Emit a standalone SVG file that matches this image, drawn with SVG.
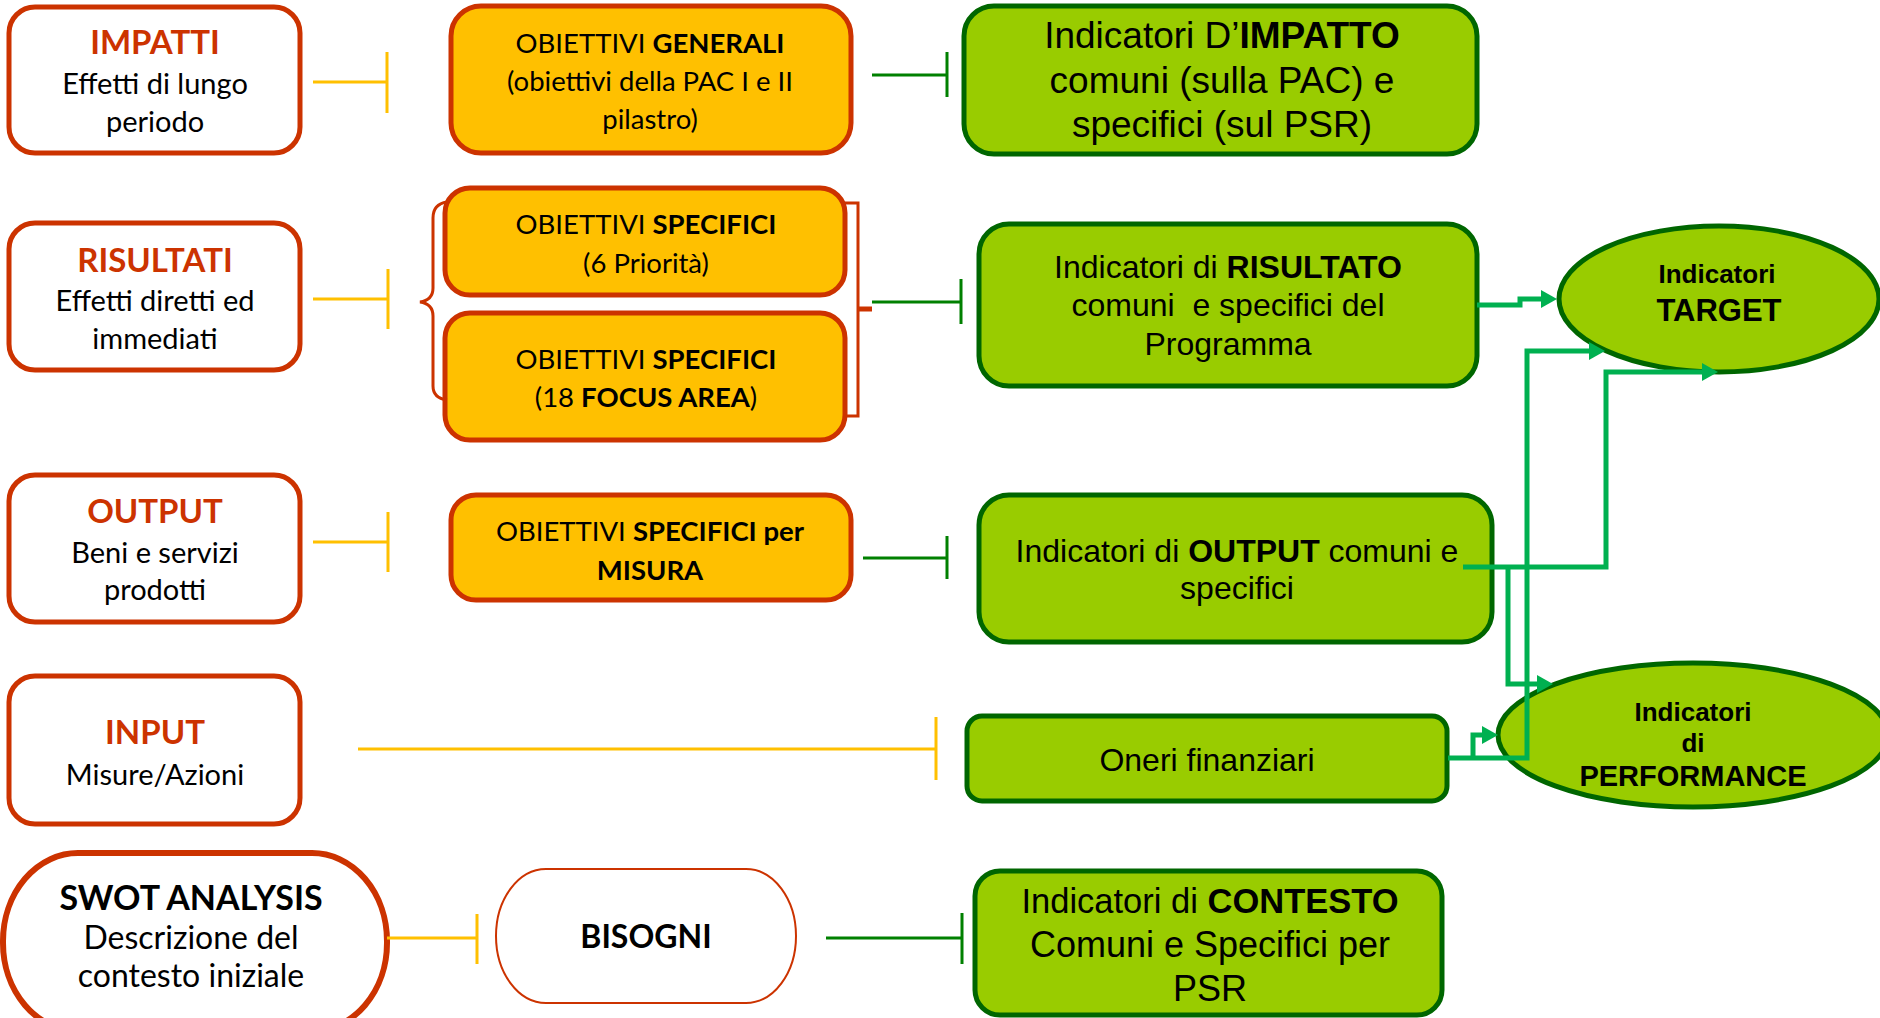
<svg xmlns="http://www.w3.org/2000/svg" width="1880" height="1018" viewBox="0 0 1880 1018">
<style>
.lbox{fill:#fff;stroke:#CC3300;stroke-width:5}
.ybox{fill:#FFC000;stroke:#CC3300;stroke-width:5}
.gbox{fill:#99CC00;stroke:#006600;stroke-width:5}
.cal{font-family:Lato,"Open Sans",sans-serif;fill:#000;text-anchor:middle}
.ari{font-family:"Liberation Sans",Arial,sans-serif;fill:#000;text-anchor:middle}
.red{fill:#CC3300;font-weight:bold}
.b{font-weight:bold}
.yl{stroke:#FFC000;stroke-width:3;fill:none}
.gl{stroke:#008000;stroke-width:3;fill:none}
.ar{stroke:#00B050;stroke-width:5;fill:none;marker-end:url(#ah)}
.br{stroke:#CC3300;stroke-width:3;fill:none}
</style>
<defs>
<marker id="ah" markerUnits="userSpaceOnUse" markerWidth="16" markerHeight="18" refX="6" refY="9" orient="auto">
<path d="M0,0 L16,9 L0,18 z" fill="#00B050"/>
</marker>
</defs>

<g id="impatti">
<rect class="lbox" x="9" y="7" width="291" height="146" rx="26"/>
<text class="cal red" x="155" y="54" font-size="33">IMPATTI</text>
<text class="cal" x="155" y="94" font-size="29">Effetti di lungo</text>
<text class="cal" x="155" y="132" font-size="29">periodo</text>
</g>
<g id="obiettivi-generali">
<rect class="ybox" x="451" y="6" width="400" height="147" rx="30"/>
<text class="cal" x="650" y="53" font-size="27.5">OBIETTIVI <tspan class="b">GENERALI</tspan></text>
<text class="cal" x="650" y="91" font-size="27.5">(obiettivi della PAC I e II</text>
<text class="cal" x="650" y="129" font-size="27.5">pilastro)</text>
</g>
<g id="indicatori-impatto">
<rect class="gbox" x="964" y="6" width="513" height="148" rx="30"/>
<text class="ari" x="1222" y="48" font-size="37">Indicatori D’<tspan class="b">IMPATTO</tspan></text>
<text class="ari" x="1222" y="93" font-size="37">comuni (sulla PAC) e</text>
<text class="ari" x="1222" y="137" font-size="37">specifici (sul PSR)</text>
</g>

<g id="risultati">
<rect class="lbox" x="9" y="223" width="291" height="147" rx="26"/>
<text class="cal red" x="155" y="272" font-size="33">RISULTATI</text>
<text class="cal" x="155" y="311" font-size="29">Effetti diretti ed</text>
<text class="cal" x="155" y="349" font-size="29">immediati</text>
</g>
<g id="obiettivi-specifici-priorita">
<rect class="ybox" x="445" y="188" width="400" height="107" rx="25"/>
<text class="cal" x="646" y="234" font-size="27.5">OBIETTIVI <tspan class="b">SPECIFICI</tspan></text>
<text class="cal" x="646" y="273" font-size="27.5">(6 Priorità)</text>
</g>
<g id="obiettivi-specifici-focus">
<rect class="ybox" x="445" y="313" width="400" height="127" rx="25"/>
<text class="cal" x="646" y="369" font-size="27.5">OBIETTIVI <tspan class="b">SPECIFICI</tspan></text>
<text class="cal" x="646" y="407" font-size="27.5">(18 <tspan class="b">FOCUS AREA</tspan>)</text>
</g>
<g id="indicatori-risultato">
<rect class="gbox" x="979" y="224" width="498" height="162" rx="30"/>
<text class="ari" x="1228" y="278" font-size="32">Indicatori di <tspan class="b">RISULTATO</tspan></text>
<text class="ari" x="1228" y="316" font-size="32" xml:space="preserve">comuni  e specifici del</text>
<text class="ari" x="1228" y="355" font-size="32">Programma</text>
</g>
<g id="indicatori-target">
<ellipse class="gbox" cx="1719" cy="299" rx="160" ry="73"/>
<text class="ari b" x="1717" y="283" font-size="26">Indicatori</text>
<text class="ari b" x="1719" y="321" font-size="31">TARGET</text>
</g>

<g id="output">
<rect class="lbox" x="9" y="475" width="291" height="147" rx="26"/>
<text class="cal red" x="155" y="523" font-size="33">OUTPUT</text>
<text class="cal" x="155" y="563" font-size="29">Beni e servizi</text>
<text class="cal" x="155" y="600" font-size="29">prodotti</text>
</g>
<g id="obiettivi-misura">
<rect class="ybox" x="451" y="495" width="400" height="105" rx="25"/>
<text class="cal" x="650" y="541" font-size="27.5">OBIETTIVI <tspan class="b">SPECIFICI per</tspan></text>
<text class="cal b" x="650" y="580" font-size="27.5">MISURA</text>
</g>
<g id="indicatori-output">
<rect class="gbox" x="979" y="495" width="513" height="147" rx="30"/>
<text class="ari" x="1237" y="562" font-size="32">Indicatori di <tspan class="b">OUTPUT</tspan> comuni e</text>
<text class="ari" x="1237" y="599" font-size="32">specifici</text>
</g>

<g id="input">
<rect class="lbox" x="9" y="676" width="291" height="148" rx="26"/>
<text class="cal red" x="155" y="744" font-size="33">INPUT</text>
<text class="cal" x="155" y="785" font-size="29">Misure/Azioni</text>
</g>
<g id="oneri">
<rect class="gbox" x="967" y="716" width="480" height="85" rx="15"/>
<text class="ari" x="1207" y="771" font-size="32">Oneri finanziari</text>
</g>
<g id="indicatori-performance">
<ellipse class="gbox" cx="1693" cy="735" rx="195" ry="72"/>
<text class="ari b" x="1693" y="721" font-size="26">Indicatori</text>
<text class="ari b" x="1693" y="752" font-size="26">di</text>
<text class="ari b" x="1693" y="786" font-size="29">PERFORMANCE</text>
</g>

<g id="swot">
<rect class="lbox" x="3" y="853" width="384" height="178" rx="75" ry="88" style="stroke-width:6"/>
<text class="cal b" x="191" y="910" font-size="34">SWOT ANALYSIS</text>
<text class="cal" x="191" y="949" font-size="32">Descrizione del</text>
<text class="cal" x="191" y="987" font-size="32">contesto iniziale</text>
</g>
<g id="bisogni">
<rect x="496" y="869" width="300" height="134" rx="50" ry="67" fill="#fff" stroke="#CC3300" stroke-width="2"/>
<text class="cal b" x="646" y="948" font-size="32">BISOGNI</text>
</g>
<g id="indicatori-contesto">
<rect class="gbox" x="975" y="871" width="467" height="144" rx="25"/>
<text class="ari" x="1210" y="913" font-size="34.5">Indicatori di <tspan class="b">CONTESTO</tspan></text>
<text class="ari" x="1210" y="957" font-size="36">Comuni e Specifici per</text>
<text class="ari" x="1210" y="1001" font-size="36">PSR</text>
</g>

<g id="connectors">
<path class="yl" d="M313,82 H387 M387,52 V113"/>
<path class="yl" d="M313,299 H388 M388,269 V329"/>
<path class="yl" d="M313,542 H388 M388,512 V572"/>
<path class="yl" d="M358,749 H936 M936,717 V780"/>
<path class="yl" d="M387,938 H477 M477,914 V964"/>
<path class="gl" d="M872,75 H947 M947,52 V97"/>
<path class="gl" d="M872,302 H961 M961,279 V324"/>
<path class="gl" d="M863,558 H947 M947,536 V579"/>
<path class="gl" d="M826,938 H962 M962,913 V964"/>
<path class="br" d="M447,202 Q433,204 433,218 V288 Q433,300 420,302 Q433,304 433,316 V386 Q433,398 447,400"/>
<path class="br" d="M845,203 H858 V416 H845"/>
<path d="M858,309 H872" stroke="#CC3300" stroke-width="5"/>
<path class="ar" d="M1477,305 H1520 V299 H1547"/>
<path class="ar" d="M1448,758 H1527 V351 H1595"/>
<path class="ar" d="M1463,567 H1606 V372 H1708"/>
<path class="ar" d="M1508,567 V684 H1543"/>
<path class="ar" d="M1473,758 V735 H1488"/>
</g>
</svg>
